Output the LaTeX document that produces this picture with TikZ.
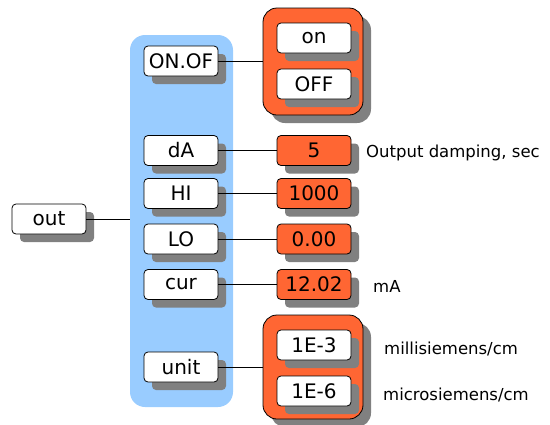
\documentclass[tikz,border=0pt]{standalone}
\usepackage{fontspec}
\setmainfont{DejaVu Sans}
\usetikzlibrary{shadows}
\definecolor{panelblue}{HTML}{99CCFF}
\definecolor{valorange}{HTML}{FF6633}
\definecolor{shadowgray}{HTML}{808080}
\tikzset{
  shd/.style={drop shadow={shadow xshift=8pt, shadow yshift=-8pt, fill=shadowgray, opacity=1}},
  box/.style={shd, draw=black, line width=0.8pt, rounded corners=4pt, minimum width=74pt, minimum height=30pt, inner sep=0pt, font=\fontsize{20}{24}\selectfont},
  keybox/.style={box, fill=white},
  valbox/.style={box, fill=valorange},
  grp/.style={shd, draw=black, line width=0.8pt, rounded corners=14pt, fill=valorange, inner sep=0pt},
  lbl/.style={anchor=west, inner sep=0pt, font=\fontsize{16.5}{19}\selectfont},
  conn/.style={draw=black, line width=0.8pt}
}
\begin{document}
\begin{tikzpicture}[x=1pt, y=-1pt]
\useasboundingbox (0,0) rectangle (550,424);
% blue panel
\node[fill=panelblue, rounded corners=15pt, minimum width=103pt, minimum height=372pt, inner sep=0pt] (panel) at (181.5,221) {};
% groups
\node[grp, minimum width=100pt, minimum height=107pt] (g1) at (313,61.5) {};
\node[grp, minimum width=100pt, minimum height=104pt] (g2) at (313,367) {};
% out
\node[keybox] (out) at (49,219) {out};
% keys
\node[keybox] (onof) at (181,61) {ON.OF};
\node[keybox] (da) at (181,150.5) {dA};
\node[keybox] (hi) at (181,193.5) {HI};
\node[keybox] (lo) at (181,239) {LO};
\node[keybox] (cur) at (181,284.5) {cur};
\node[keybox] (unit) at (181,367) {unit};
% values
\node[keybox] (on) at (314,38) {on};
\node[keybox] (off) at (314,84) {OFF};
\node[valbox] (v5) at (314,150.5) {5};
\node[valbox] (v1000) at (314,193.5) {1000};
\node[valbox] (v000) at (314,239) {0.00};
\node[valbox] (v1202) at (314,284.5) {12.02};
\node[keybox] (e3) at (314,345) {1E-3};
\node[keybox] (e6) at (314,391) {1E-6};
% labels
\node[lbl] (l1) at (366,153) {Output damping, sec};
\node[lbl] (l2) at (373,286) {mA};
\node[lbl] (l3) at (384,349) {millisiemens/cm};
\node[lbl] (l4) at (383,395) {microsiemens/cm};
% connectors
\draw[conn] (out.east) -- (out.east -| panel.west);
\draw[conn] (onof.east) -- (onof.east -| g1.west);
\draw[conn] (da.east) -- (v5.west);
\draw[conn] (hi.east) -- (v1000.west);
\draw[conn] (lo.east) -- (v000.west);
\draw[conn] (cur.east) -- (v1202.west);
\draw[conn] (unit.east) -- (unit.east -| g2.west);
\end{tikzpicture}
\end{document}
